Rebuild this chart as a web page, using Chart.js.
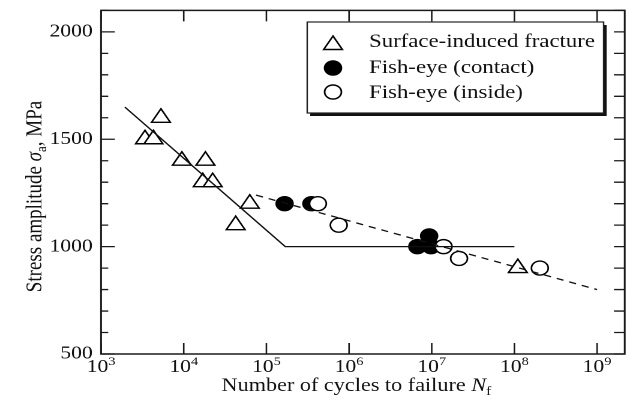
<!DOCTYPE html>
<html>
<head>
<meta charset="utf-8">
<script src="https://cdn.jsdelivr.net/npm/chart.js@4"></script>
<style>
  body { margin: 0; background: #fff; overflow: hidden; }
  #wrap { width: 531px; height: 404px; transform: scaleX(1.2); transform-origin: 0 0; }
</style>
</head>
<body>
<div id="wrap"><canvas id="snChart"></canvas></div>
<script>
// S-N data, cycles to failure vs stress amplitude (MPa)
var surfaceN = [3400, 4300, 5300, 9500, 17000, 18300, 22400, 42500, 63000, 1.1e8];
var surfaceS = [1500, 1500, 1600, 1400, 1300, 1400, 1300, 1100, 1200, 900];
var contactN = [1.66e5, 3.5e5, 6.7e6, 9.3e6, 9.8e6];
var contactS = [1200, 1200, 1000, 1050, 1000];
var insideN = [4.2e5, 7.5e5, 1.39e7, 2.14e7, 2.03e8];
var insideS = [1200, 1100, 1000, 945, 900];
var solidN = [1940, 1.69e5, 1e8];
var solidS = [1650, 1000, 1000];
var dashedN = [7.5e4, 1e9];
var dashedS = [1240, 800];
var xTickExp = [3, 4, 5, 6, 7, 8, 9];
var yTickLabels = [500, 1000, 1500, 2000];

var SERIF = '"Liberation Serif", "Times New Roman", serif';
Chart.defaults.font.family = SERIF;

function pts(xs, ys) {
    return xs.map(function (x, i) { return {x: x, y: ys[i]}; });
}

var legendItems = [
    {label: 'Surface-induced fracture', style: 'triangle', fill: '#fff'},
    {label: 'Fish-eye (contact)', style: 'circle', fill: '#000'},
    {label: 'Fish-eye (inside)', style: 'circle', fill: '#fff'}
];

function marker(ctx, style, x, y, fill) {
    ctx.beginPath();
    if (style === 'triangle') {
        ctx.moveTo(x, y - 9);
        ctx.lineTo(x + 7.8, y + 4.5);
        ctx.lineTo(x - 7.8, y + 4.5);
        ctx.closePath();
    } else {
        ctx.arc(x, y, 7, 0, Math.PI * 2);
    }
    ctx.fillStyle = fill;
    ctx.fill();
    ctx.lineWidth = 1.4;
    ctx.strokeStyle = '#000';
    ctx.stroke();
}

function drawParts(ctx, parts, x, y) {
    parts.forEach(function (p) {
        ctx.font = p.font;
        ctx.fillText(p.text, x, y + (p.dy || 0));
        x += ctx.measureText(p.text).width;
    });
}

function partsWidth(ctx, parts) {
    var w = 0;
    parts.forEach(function (p) {
        ctx.font = p.font;
        w += ctx.measureText(p.text).width;
    });
    return w;
}

var decor = {
    id: 'decor',
    afterDraw: function (chart) {
        var ctx = chart.ctx;
        var a = chart.chartArea;
        var xs = chart.scales.x;
        var ys = chart.scales.y;
        ctx.save();
        ctx.strokeStyle = '#1a1a1a';
        ctx.fillStyle = '#111';
        ctx.lineWidth = 1.5;
        ctx.strokeRect(a.left, a.top, a.right - a.left, a.bottom - a.top);

        // inward ticks, x (both edges)
        ctx.lineWidth = 1.3;
        xs.ticks.forEach(function (t) {
            var px = xs.getPixelForValue(t.value);
            ctx.beginPath();
            ctx.moveTo(px, a.bottom); ctx.lineTo(px, a.bottom - 11);
            ctx.moveTo(px, a.top); ctx.lineTo(px, a.top + 11);
            ctx.stroke();
        });
        // inward ticks, y
        ys.ticks.forEach(function (t) {
            var py = ys.getPixelForValue(t.value);
            var len = (t.value % 500 === 0) ? 11.5 : 6;
            ctx.beginPath();
            ctx.moveTo(a.left, py); ctx.lineTo(a.left + len, py);
            ctx.moveTo(a.right, py); ctx.lineTo(a.right - 9, py);
            ctx.stroke();
        });

        // x tick labels 10^n
        ctx.textAlign = 'left';
        ctx.textBaseline = 'alphabetic';
        xs.ticks.forEach(function (t) {
            var px = xs.getPixelForValue(t.value);
            var e = Math.round(Math.log10(t.value));
            var parts = [
                {text: '10', font: '18px ' + SERIF},
                {text: String(e), font: '12px ' + SERIF, dy: -7}
            ];
            drawParts(ctx, parts, px - partsWidth(ctx, parts) / 2, 372);
        });

        // x title
        var xt = [
            {text: 'Number of cycles to failure ', font: '18.5px ' + SERIF},
            {text: 'N', font: 'italic 18.5px ' + SERIF},
            {text: 'f', font: '13px ' + SERIF, dy: 4}
        ];
        drawParts(ctx, xt, 297 - partsWidth(ctx, xt) / 2, 391);

        // y title
        var yt = [
            {text: 'Stress amplitude ', font: '19px ' + SERIF},
            {text: '\u03c3', font: 'italic 19px ' + SERIF},
            {text: 'a', font: '13px ' + SERIF, dy: 4},
            {text: ', MPa', font: '19px ' + SERIF}
        ];
        ctx.save();
        ctx.translate(34.5, 196.5);
        ctx.rotate(-Math.PI / 2);
        drawParts(ctx, yt, -partsWidth(ctx, yt) / 2, 0);
        ctx.restore();

        // legend box with shadow
        var bx = 256, by = 22, bw = 247, bh = 91;
        ctx.fillStyle = '#111';
        ctx.fillRect(bx + 2.5, by + 3, bw, bh);
        ctx.fillStyle = '#fff';
        ctx.fillRect(bx, by, bw, bh);
        ctx.lineWidth = 1.2;
        ctx.strokeStyle = '#222';
        ctx.strokeRect(bx, by, bw, bh);
        var rowSym = [45, 68, 92];
        var rowBase = [47, 73, 98];
        legendItems.forEach(function (it, i) {
            marker(ctx, it.style, 277.5, rowSym[i], it.fill);
            ctx.fillStyle = '#111';
            ctx.font = '19px ' + SERIF;
            ctx.fillText(it.label, 307.5, rowBase[i]);
        });
        ctx.restore();
    }
};

new Chart(document.getElementById('snChart'), {
    type: 'scatter',
    data: {
        datasets: [
            {
                label: 'knee line',
                data: pts(solidN, solidS),
                showLine: true,
                borderColor: '#111',
                borderWidth: 1.3,
                pointRadius: 0,
                order: 0
            },
            {
                label: 'fish-eye trend',
                data: pts(dashedN, dashedS),
                showLine: true,
                borderColor: '#111',
                borderWidth: 1.3,
                borderDash: [6, 5],
                pointRadius: 0,
                order: 0
            },
            {
                label: 'Fish-eye (inside)',
                data: pts(insideN, insideS),
                pointStyle: 'circle',
                pointRadius: 7,
                backgroundColor: '#fff',
                borderColor: '#000',
                borderWidth: 1.4,
                order: 1
            },
            {
                label: 'Fish-eye (contact)',
                data: pts(contactN, contactS),
                pointStyle: 'circle',
                pointRadius: 7,
                backgroundColor: '#000',
                borderColor: '#000',
                borderWidth: 1.4,
                order: 2
            },
            {
                label: 'Surface-induced fracture',
                data: pts(surfaceN, surfaceS),
                pointStyle: 'triangle',
                pointRadius: 9,
                backgroundColor: '#fff',
                borderColor: '#000',
                borderWidth: 1.4,
                order: 3
            }
        ]
    },
    options: {
        responsive: true,
        maintainAspectRatio: false,
        devicePixelRatio: 2,
        animation: false,
        layout: {padding: {top: 5, right: 5.2, left: 0, bottom: 0}},
        plugins: {legend: {display: false}, tooltip: {enabled: false}},
        scales: {
            x: {
                type: 'logarithmic',
                min: 1e3,
                max: 2.16e9,
                grid: {display: false, drawTicks: false},
                border: {display: false},
                ticks: {display: false},
                afterBuildTicks: function (scale) {
                    scale.ticks = xTickExp.map(function (e) { return {value: Math.pow(10, e)}; });
                },
                afterFit: function (scale) {
                    scale.height = 50;
                    scale.paddingLeft = 0;
                    scale.paddingRight = 0;
                }
            },
            y: {
                min: 500,
                max: 2100,
                grid: {display: false, drawTicks: false},
                border: {display: false},
                ticks: {
                    stepSize: 100,
                    autoSkip: false,
                    padding: 7,
                    color: '#111',
                    font: {size: 18},
                    callback: function (v) {
                        return yTickLabels.indexOf(v) >= 0 ? String(v) : '';
                    }
                },
                afterFit: function (scale) {
                    scale.width = 84.2;
                    scale.paddingTop = 0;
                    scale.paddingBottom = 0;
                }
            }
        }
    },
    plugins: [decor]
});
</script>
</body>
</html>
